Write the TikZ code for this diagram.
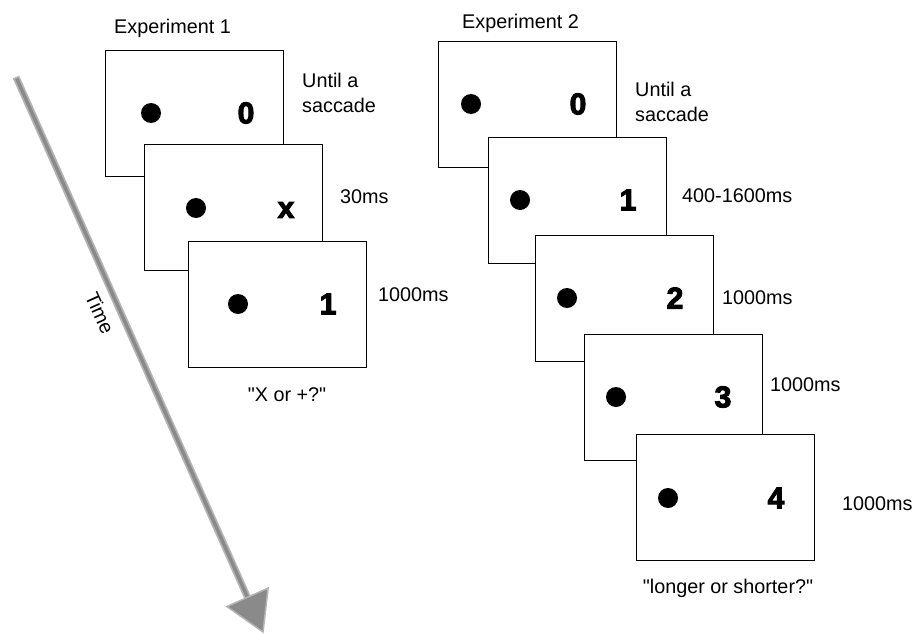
\documentclass[tikz,border=0pt]{standalone}
\usepackage{fontspec}
\setmainfont{Liberation Sans}[Ligatures=TeXOff]
\newfontfamily\digitfont[FakeBold=3.5]{Liberation Sans Bold}
\usetikzlibrary{calc}
\definecolor{shaftlight}{HTML}{B4B4B4}
\definecolor{shaftdark}{HTML}{8A8A8A}
\begin{document}
\begin{tikzpicture}[x=1pt,y=-1pt,
  screen/.style={draw, fill=white, line width=1.4pt, minimum width=178pt, minimum height=126pt, inner sep=0pt, anchor=north west},
  fixdot/.style={circle, fill=black, minimum size=20pt, inner sep=0pt},
  digit/.style={font=\digitfont\fontsize{30}{30}\selectfont, inner sep=0pt},
  lbl/.style={font=\fontsize{19.8}{25}\selectfont, inner sep=0pt, anchor=west, align=left},
  captext/.style={font=\fontsize{19.8}{25}\selectfont, inner sep=0pt}]
\useasboundingbox (0,0) rectangle (915,634);

% time arrow
\coordinate (tstart) at (16,77);
\coordinate (tbase) at (247.5,597.3);
\coordinate (tip) at (263,632);
\coordinate (hl) at (268.1,588.1);
\coordinate (hr) at (226.9,606.5);
\draw[shaftlight, line width=7pt] (tstart) -- ($(tbase)!-2pt!(tstart)$);
\draw[shaftdark, line width=3.5pt] ($(tstart)!1.8pt!(tbase)$) -- ($(tbase)!-2pt!(tstart)$);
\draw[shaftlight, fill=shaftdark, line width=1.5pt, line join=miter] (hl) -- (tip) -- (hr) -- cycle;
\node[captext, rotate=-65.9] (time) at (100,313) {Time};

% Experiment 1
\node[font=\fontsize{19.8}{25}\selectfont, inner sep=0pt, anchor=base west] (e1) at (114,34) {Experiment 1};
\node[screen] (A) at (105,50) {};
\node[fixdot] (Adot) at ($(A.north west)+(46,63)$) {};
\node[digit] (Adig) at ($(A.north west)+(141,63)$) {0};
\node[screen] (B) at (144,144) {};
\node[fixdot] (Bdot) at ($(B.north west)+(52,64)$) {};
\node[digit] (Bdig) at ($(B.north west)+(142,66)$) {x};
\node[screen] (C) at (188,241) {};
\node[fixdot] (Cdot) at ($(C.north west)+(50,63)$) {};
\node[digit] (Cdig) at ($(C.north west)+(140,63)$) {1};
\node[lbl] (la) at (302,93) {Until a\\saccade};
\node[lbl] (lb) at (340,197) {30ms};
\node[lbl] (lc) at (378,295) {1000ms};
\node[captext] (q1) at (287,395) {"X or +?"};

% Experiment 2
\node[font=\fontsize{19.8}{25}\selectfont, inner sep=0pt, anchor=base west] (e2) at (462,28.5) {Experiment 2};
\node[screen] (S0) at (438,41) {};
\node[fixdot] (S0dot) at ($(S0.north west)+(33,63)$) {};
\node[digit] (S0dig) at ($(S0.north west)+(140,63)$) {0};
\node[screen] (S1) at (488,137) {};
\node[fixdot] (S1dot) at ($(S1.north west)+(32,63)$) {};
\node[digit] (S1dig) at ($(S1.north west)+(140,63)$) {1};
\node[screen] (S2) at (535,235) {};
\node[fixdot] (S2dot) at ($(S2.north west)+(32,63)$) {};
\node[digit] (S2dig) at ($(S2.north west)+(140,63)$) {2};
\node[screen] (S3) at (584,334) {};
\node[fixdot] (S3dot) at ($(S3.north west)+(32,63)$) {};
\node[digit] (S3dig) at ($(S3.north west)+(139,63)$) {3};
\node[screen] (S4) at (636,434) {};
\node[fixdot] (S4dot) at ($(S4.north west)+(32,64)$) {};
\node[digit] (S4dig) at ($(S4.north west)+(140,64)$) {4};
\node[lbl] (l0) at (635,102) {Until a\\saccade};
\node[lbl] (l1) at (682,196) {400-1600ms};
\node[lbl] (l2) at (722,298) {1000ms};
\node[lbl] (l3) at (770,385) {1000ms};
\node[lbl] (l4) at (842,504) {1000ms};
\node[captext] (q2) at (728,588) {"longer or shorter?"};
\end{tikzpicture}
\end{document}
